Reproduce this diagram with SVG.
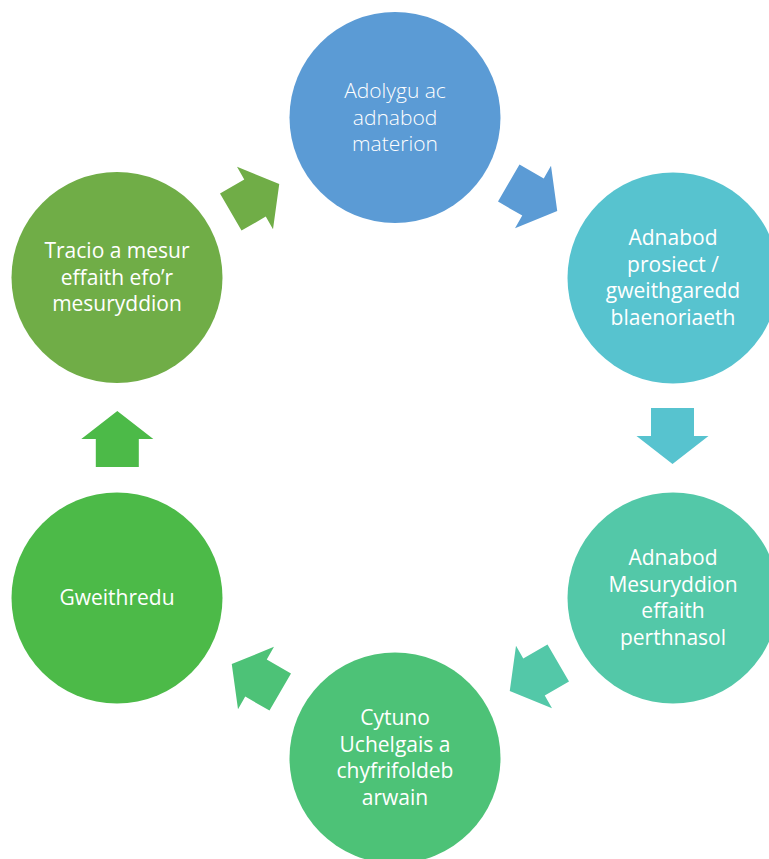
<svg xmlns="http://www.w3.org/2000/svg" width="769" height="859" viewBox="0 0 769 859">
<style>
text{font-family:"Open Sans","Noto Sans","Liberation Sans",sans-serif;font-size:21px;fill:#ffffff;text-anchor:middle}
.light{font-weight:300}
</style>
<defs>
<polygon id="arr" points="-28,-21.5 0,-21.5 0,-36 28,0 0,36 0,21.5 -28,21.5"/>
</defs>
<rect width="769" height="859" fill="#ffffff"/>
<g id="connectors">
<use href="#arr" fill="#5B9BD5" transform="translate(533,197) rotate(30)"/>
<use href="#arr" fill="#57C3CF" transform="translate(672.5,436) rotate(90)"/>
<use href="#arr" fill="#53C8A8" transform="translate(534,677) rotate(150)"/>
<use href="#arr" fill="#4DC277" transform="translate(256,678) rotate(210)"/>
<use href="#arr" fill="#4CBA48" transform="translate(117.3,439) rotate(270)"/>
<use href="#arr" fill="#70AD47" transform="translate(255,198) rotate(-30)"/>
</g>
<g id="node1">
<circle cx="395" cy="117.5" r="105.5" fill="#5B9BD5"/>
<text class="light" x="395" y="98">Adolygu ac</text>
<text class="light" x="395" y="124.5">adnabod</text>
<text class="light" x="395" y="151">materion</text>
</g>
<g id="node2">
<circle cx="673" cy="278" r="105.5" fill="#57C3CF"/>
<text x="673" y="245.25">Adnabod</text>
<text x="673" y="271.75">prosiect /</text>
<text x="673" y="298.25">gweithgaredd</text>
<text x="673" y="324.75">blaenoriaeth</text>
</g>
<g id="node3">
<circle cx="673" cy="598" r="105.5" fill="#53C8A8"/>
<text x="673" y="565.25">Adnabod</text>
<text x="673" y="591.75">Mesuryddion</text>
<text x="673" y="618.25">effaith</text>
<text x="673" y="644.75">perthnasol</text>
</g>
<g id="node4">
<circle cx="395" cy="758" r="105.5" fill="#4DC277"/>
<text x="395" y="725.25">Cytuno</text>
<text x="395" y="751.75">Uchelgais a</text>
<text x="395" y="778.25">chyfrifoldeb</text>
<text x="395" y="804.75">arwain</text>
</g>
<g id="node5">
<circle cx="117" cy="598" r="105.5" fill="#4CBA48"/>
<text x="117" y="605">Gweithredu</text>
</g>
<g id="node6">
<circle cx="117" cy="277.5" r="105.5" fill="#70AD47"/>
<text x="117" y="258">Tracio a mesur</text>
<text x="117" y="284.5">effaith efo’r</text>
<text x="117" y="311">mesuryddion</text>
</g>
</svg>
